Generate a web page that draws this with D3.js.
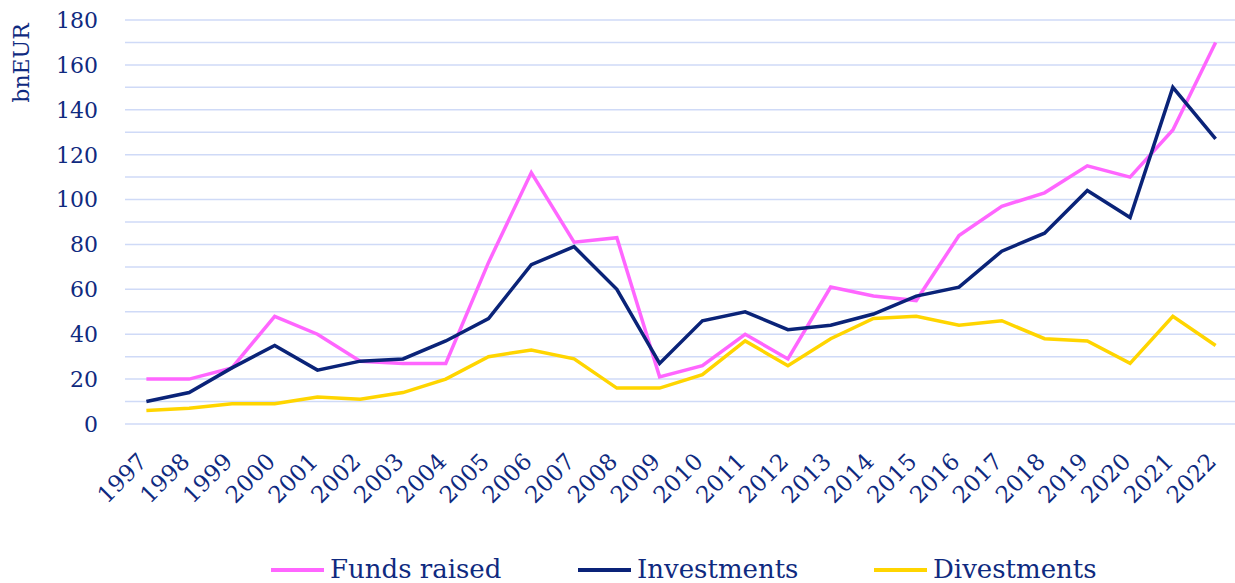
<!DOCTYPE html>
<html>
<meta charset="utf-8" />
<head>
    <script src="https://d3js.org/d3.v7.min.js"></script>
    <style>
        body { margin: 0; background: #fff; }
        text { font-family: "DejaVu Serif", "Liberation Serif", serif; fill: #0f2a80; }
    </style>
</head>
<body>
<div id="chart"></div>
<script type="text/javascript">
    // values in bnEUR
    var years = d3.range(1997, 2023).map(String);
    var fundsRaised = [20, 20, 25, 48, 40, 28, 27, 27, 72, 112, 81, 83, 21, 26, 40, 29, 61, 57, 55, 84, 97, 103, 115, 110, 131, 170];
    var investments = [10, 14, 25, 35, 24, 28, 29, 37, 47, 71, 79, 60, 27, 46, 50, 42, 44, 49, 57, 61, 77, 85, 104, 92, 150, 127];
    var divestments = [6, 7, 9, 9, 12, 11, 14, 20, 30, 33, 29, 16, 16, 22, 37, 26, 38, 47, 48, 44, 46, 38, 37, 27, 48, 35];
    var yTicks = [0, 20, 40, 60, 80, 100, 120, 140, 160, 180];
    var gridValues = d3.range(0, 190, 10);

    var series = [
        { name: "Funds raised", values: fundsRaised, color: "#ff66ff" },
        { name: "Investments", values: investments, color: "#0a2378" },
        { name: "Divestments", values: divestments, color: "#ffd500" }
    ];

    const width = 1235, height = 583;
    const plotLeft = 125, plotRight = 1237, plotTop = 20, plotBottom = 424;

    var svg = d3.select("#chart").append("svg")
        .attr("width", width)
        .attr("height", height);

    var x = d3.scaleBand().domain(years).range([plotLeft, plotRight]);
    var y = d3.scaleLinear().domain([0, 180]).range([plotBottom, plotTop]);

    // gridlines
    svg.append("g").selectAll("line")
        .data(gridValues)
        .enter()
        .append("line")
        .attr("x1", plotLeft)
        .attr("x2", width)
        .attr("y1", d => y(d))
        .attr("y2", d => y(d))
        .attr("stroke", "#cfdaf7")
        .attr("stroke-width", 1.5);

    // y labels
    svg.append("g").selectAll("text")
        .data(yTicks)
        .enter()
        .append("text")
        .attr("x", 98)
        .attr("y", d => y(d))
        .attr("dy", "0.36em")
        .attr("text-anchor", "end")
        .style("font-size", "22px")
        .text(d => d);

    svg.append("text")
        .attr("transform", "translate(29,63) rotate(-90)")
        .attr("text-anchor", "middle")
        .style("font-size", "22px")
        .text("bnEUR");

    // x labels
    svg.append("g").selectAll("text")
        .data(years)
        .enter()
        .append("text")
        .attr("transform", d => "translate(" + (x(d) + x.bandwidth() / 2 + 2) + "," + 463 + ") rotate(-45)")
        .attr("text-anchor", "end")
        .style("font-size", "23px")
        .text(d => d);

    var line = d3.line()
        .x((d, i) => x(years[i]) + x.bandwidth() / 2)
        .y(d => y(d));

    svg.append("g").selectAll("path")
        .data(series)
        .enter()
        .append("path")
        .attr("d", d => line(d.values))
        .attr("fill", "none")
        .attr("stroke", d => d.color)
        .attr("stroke-width", 3.5)
        .attr("stroke-linejoin", "miter");

    // legend
    var legendX = [271, 578, 874];
    var legend = svg.append("g").selectAll("g")
        .data(series)
        .enter()
        .append("g")
        .attr("transform", (d, i) => "translate(" + legendX[i] + ",570)");
    legend.append("line")
        .attr("x1", 0).attr("x2", 53)
        .attr("stroke", d => d.color)
        .attr("stroke-width", 4);
    legend.append("text")
        .attr("x", 59)
        .attr("y", 8)
        .style("font-size", "26px")
        .text(d => d.name);
</script>
</body>
</html>
